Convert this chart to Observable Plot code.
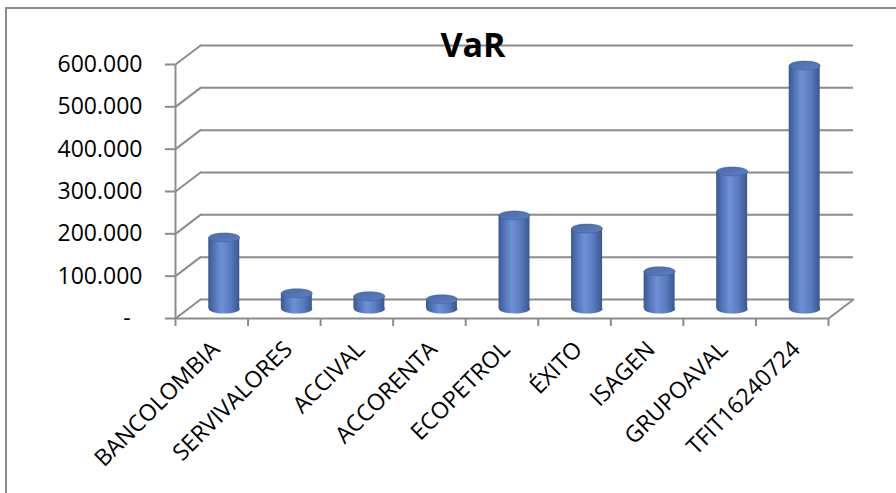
<!DOCTYPE html>
<html>
<head>
<meta charset="utf-8">
<script src="https://cdn.jsdelivr.net/npm/d3@7"></script>
<script src="https://cdn.jsdelivr.net/npm/@observablehq/plot@0.6"></script>
<style>
  html, body { margin: 0; padding: 0; background: #fff; overflow: hidden; }
  #wrap { position: relative; width: 896px; height: 493px; overflow: hidden; }
  #border { position: absolute; left: 5px; top: 7px; width: 2000px; height: 2000px;
            border-left: 2px solid #8c8c8c; border-top: 2px solid #8c8c8c; pointer-events: none; }
  #chart { position: absolute; left: 0; top: 0; }
</style>
</head>
<body>
<div id="wrap"><div id="chart"></div><div id="border"></div></div>
<script>
// ---- data ----
const categories = ["BANCOLOMBIA", "SERVIVALORES", "ACCIVAL", "ACCORENTA", "ECOPETROL", "ÉXITO", "ISAGEN", "GRUPOAVAL", "TFIT16240724"];
const values = [169000, 37000, 30000, 23000, 221000, 190000, 89000, 325000, 575000];
const yTicks = [0, 100000, 200000, 300000, 400000, 500000, 600000];
const title = "VaR";

// ---- layout / style ----
const W = 896, H = 493;
const mL = 175, mR = 68, mT = 64, mB = 175;
const depthX = 25, depthY = 19;          // 3D depth offset of the back wall (px)
const GRID = "#8c8c8c";
const n = categories.length;
const bandPx = (W - mL - mR) / n;
const cylW = 31, cylRy = 4.5;
const cylInset = (bandPx - cylW) / 2;
const depthAngle = Math.atan2(depthX, depthY) * 180 / Math.PI;
const depthLen = Math.hypot(depthX, depthY);

const data = categories.map((c, i) => ({i, c, v: values[i]}));

const loc = d3.formatLocale({decimal: ",", thousands: ".", grouping: [3], currency: ["$", ""]});
const fmt = loc.format(",.0f");
const yFmt = d => d === 0 ? "-\u00a0\u00a0" : fmt(d);

const lineShape = {draw(context, l) { context.moveTo(0, 0); context.lineTo(0, -l); }};
const ellipse = {
  draw(context) {
    const rx = cylW / 2, ry = cylRy, k = 0.5523;
    context.moveTo(rx, 0);
    context.bezierCurveTo(rx, k * ry, k * rx, ry, 0, ry);
    context.bezierCurveTo(-k * rx, ry, -rx, k * ry, -rx, 0);
    context.bezierCurveTo(-rx, -k * ry, -k * rx, -ry, 0, -ry);
    context.bezierCurveTo(k * rx, -ry, rx, -k * ry, rx, 0);
    context.closePath();
  }
};

const mdx = depthX / 2, mdy = -depthY / 2;

const chart = Plot.plot({
  width: W, height: H,
  marginLeft: mL, marginRight: mR, marginTop: mT, marginBottom: mB,
  x: {type: "linear", domain: [0, n]},
  y: {domain: [0, d3.max(yTicks)]},
  style: {fontFamily: "'Open Sans', sans-serif", color: "#000", background: "transparent", overflow: "visible"},
  marks: [
    // back wall gridlines (and back floor edge)
    Plot.ruleY(yTicks, {y: d => d, dx: depthX, dy: -depthY, stroke: GRID, strokeWidth: 2}),
    // side-wall diagonals
    Plot.vector(yTicks, {x: () => 0, y: d => d, length: depthLen, rotate: depthAngle, anchor: "start",
      shape: lineShape, stroke: GRID, strokeWidth: 2}),
    // right floor diagonal
    Plot.vector([0], {x: () => n, y: () => 0, length: depthLen, rotate: depthAngle, anchor: "start",
      shape: lineShape, stroke: GRID, strokeWidth: 2}),
    // front floor edge
    Plot.ruleY([0], {stroke: GRID, strokeWidth: 2}),
    // y axis line
    Plot.ruleX([0], {x: () => 0, y1: 0, y2: d3.max(yTicks), stroke: GRID, strokeWidth: 2}),
    // cylinders: bottom cap, body, top cap
    Plot.dot(data, {x: d => d.i + 0.5, y: () => 0, symbol: ellipse, r: 15, fill: "url(#cylBody)", stroke: "none", dx: mdx, dy: mdy}),
    Plot.rectY(data, {x1: d => d.i, x2: d => d.i + 1, y1: () => 0, y2: d => d.v, insetLeft: cylInset, insetRight: cylInset,
      fill: "url(#cylBody)", dx: mdx, dy: mdy}),
    Plot.dot(data, {x: d => d.i + 0.5, y: d => d.v, symbol: ellipse, r: 15, fill: "url(#cylTop)", stroke: "#3f5f9c", strokeWidth: 0.5, dx: mdx, dy: mdy}),
    // axes
    Plot.axisY({ticks: yTicks, tickFormat: yFmt, tickSize: 10, tickPadding: 23, fontSize: 23, stroke: GRID, strokeWidth: 2}),
    Plot.axisX({ticks: d3.range(n + 1), tickFormat: () => "", tickSize: 8, stroke: GRID, strokeWidth: 2}),
    Plot.axisX({ticks: d3.range(n).map(i => i + 0.5), tickFormat: d => categories[Math.floor(d)],
      tickSize: 0, tickPadding: 27, tickRotate: -45, fontSize: 23, dx: 4}),
    // title
    Plot.text([title], {frameAnchor: "top", dx: -29, dy: -32, fontSize: 34, fontWeight: "bold", fill: "#000"})
  ]
});

const ns = "http://www.w3.org/2000/svg";
const defs = document.createElementNS(ns, "defs");
defs.innerHTML = `
  <linearGradient id="cylBody" x1="0" y1="0" x2="1" y2="0">
    <stop offset="0" stop-color="#3a5891"/>
    <stop offset="0.18" stop-color="#5173b6"/>
    <stop offset="0.42" stop-color="#6d91d4"/>
    <stop offset="0.7" stop-color="#5a7dc2"/>
    <stop offset="1" stop-color="#395790"/>
  </linearGradient>
  <linearGradient id="cylTop" x1="0" y1="0" x2="1" y2="1">
    <stop offset="0" stop-color="#4a6aaa"/>
    <stop offset="1" stop-color="#5d7ec0"/>
  </linearGradient>`;
chart.insertBefore(defs, chart.firstChild);
document.getElementById("chart").appendChild(chart);
</script>
</body>
</html>
